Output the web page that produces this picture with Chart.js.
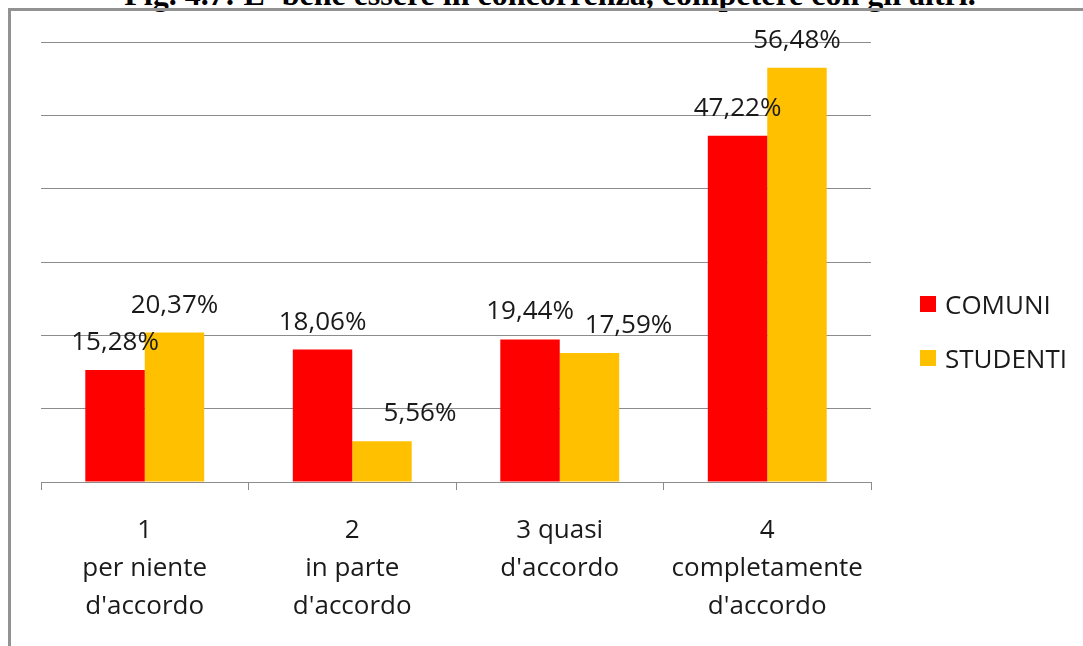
<!DOCTYPE html>
<html lang="it">
<head>
<meta charset="utf-8">
<title>Fig. 4.7</title>
<script src="https://cdn.jsdelivr.net/npm/chart.js@4.4.1/dist/chart.umd.min.js"></script>
<style>
  html, body { margin: 0; padding: 0; background: #fff; }
  body { width: 1083px; height: 646px; overflow: hidden; position: relative; }
  #title {
    position: absolute; left: 0; width: 1100px; top: -22px;
    text-align: center; font: bold 32px/32px "Liberation Serif", "Times New Roman", serif;
    color: #000; white-space: nowrap;
  }
  #frame {
    position: absolute; left: 8px; top: 8px; width: 1200px; height: 800px;
    border-top: 3px solid #929292; border-left: 3px solid #929292;
  }
  #chart { position: absolute; left: 0; top: 0; }
  .legend { position: absolute; left: 920px; font: 26px "Open Sans", sans-serif; color: #1a1a1a; }
  .legend div { position: relative; height: 36px; line-height: 36px; padding-left: 25px; white-space: nowrap; }
  .legend span { position: absolute; left: 0; top: 10px; width: 16px; height: 16px; }
</style>
</head>
<body>
<div id="title">Fig. 4.7: E' bene essere in concorrenza, competere con gli altri.</div>
<div id="frame"></div>
<canvas id="chart" width="1083" height="646"></canvas>
<div class="legend" id="legend"></div>
<script>
// Response categories (multi-line axis labels)
const categories = [
  ["1", "per niente", "d'accordo"],
  ["2", "in parte", "d'accordo"],
  ["3 quasi", "d'accordo"],
  ["4", "completamente", "d'accordo"]
];
const seriesNames = ["COMUNI", "STUDENTI"];
const comuni = [15.28, 18.06, 19.44, 47.22];
const studenti = [20.37, 5.56, 17.59, 56.48];
const yTicks = [0, 10, 20, 30, 40, 50, 60];

const colors = ["#FF0000", "#FFC000"];
const FONT = '"Open Sans", sans-serif';

// Value labels above each bar; a few are nudged sideways to avoid overlaps
const valueLabels = {
  id: 'valueLabels',
  afterDatasetsDraw(chart, args, opts) {
    const ctx = chart.ctx;
    ctx.save();
    ctx.font = '26px ' + FONT;
    ctx.fillStyle = '#1a1a1a';
    ctx.textAlign = 'center';
    ctx.textBaseline = 'alphabetic';
    chart.data.datasets.forEach((ds, di) => {
      const meta = chart.getDatasetMeta(di);
      meta.data.forEach((bar, i) => {
        const v = ds.data[i];
        const txt = v.toFixed(2).replace('.', ',') + '%';
        const dx = (opts.shift[di] && opts.shift[di][i]) || 0;
        ctx.fillText(txt, bar.x + dx, bar.y - 20);
      });
    });
    ctx.restore();
  }
};

new Chart(document.getElementById('chart'), {
  type: 'bar',
  data: {
    labels: categories,
    datasets: [
      { label: seriesNames[0], data: comuni, backgroundColor: colors[0] },
      { label: seriesNames[1], data: studenti, backgroundColor: colors[1] }
    ]
  },
  options: {
    responsive: false,
    animation: false,
    devicePixelRatio: 1,
    layout: { padding: { left: 41, top: 42, right: 212, bottom: 0 } },
    datasets: { bar: { categoryPercentage: 0.573, barPercentage: 1.0 } },
    plugins: {
      legend: { display: false },
      tooltip: { enabled: false },
      valueLabels: { shift: { 1: { 1: 38, 2: 39 } } }
    },
    scales: {
      x: {
        offset: true,
        grid: { display: true, drawOnChartArea: false, offset: true, tickLength: 8, color: '#8c8c8c', lineWidth: 1 },
        border: { display: true, color: '#8c8c8c', width: 1 },
        ticks: { color: '#1a1a1a', padding: 22, font: { family: FONT, size: 26, lineHeight: 1.46 }, maxRotation: 0, autoSkip: false },
        afterFit(scale) { scale.height = 164; }
      },
      y: {
        min: yTicks[0],
        max: yTicks[yTicks.length - 1],
        afterBuildTicks(scale) { scale.ticks = yTicks.map(v => ({ value: v })); },
        grid: { color: '#8c8c8c', lineWidth: 1, drawTicks: false },
        border: { display: false },
        ticks: { display: false },
        afterFit(scale) { scale.width = 0; }
      }
    }
  },
  plugins: [valueLabels]
});

// Legend to the right of the plot
const legend = document.getElementById('legend');
legend.style.top = '286px';
seriesNames.forEach((name, i) => {
  const row = document.createElement('div');
  if (i > 0) row.style.marginTop = '18px';
  const sw = document.createElement('span');
  sw.style.background = colors[i];
  row.appendChild(sw);
  row.appendChild(document.createTextNode(name));
  legend.appendChild(row);
});
</script>
</body>
</html>
